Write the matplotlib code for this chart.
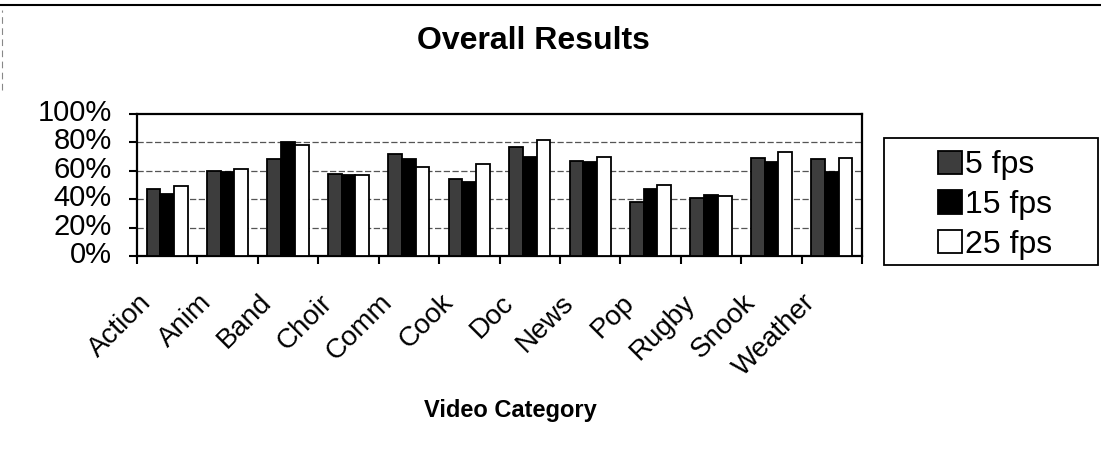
import matplotlib.pyplot as plt
import numpy as np
from matplotlib.lines import Line2D
from matplotlib.patches import Rectangle
from matplotlib.ticker import FuncFormatter, FixedLocator
from matplotlib.transforms import ScaledTranslation

plt.rcParams['font.family'] = ['Liberation Sans', 'DejaVu Sans']

categories = ['Action', 'Anim', 'Band', 'Choir', 'Comm', 'Cook',
              'Doc', 'News', 'Pop', 'Rugby', 'Snook', 'Weather']
fps_5 = [47, 60, 68, 58, 72, 54, 77, 67, 38, 41, 69, 68]
fps_15 = [44, 59, 80, 57, 68, 52, 70, 66, 47, 43, 66, 59]
fps_25 = [49, 61, 78, 57, 63, 65, 82, 70, 50, 42, 73, 69]
series_names = ['5 fps', '15 fps', '25 fps']
colors = ['#3d3d3d', 'black', 'white']

W, H = 1101, 473
fig = plt.figure(figsize=(W / 100.0, H / 100.0), dpi=100)
ax = fig.add_axes([137.0 / W, 1 - 256.0 / H, 725.0 / W, 142.0 / H])

ind = np.arange(len(categories))
width = 0.227
bars = []
for j, vals in enumerate([fps_5, fps_15, fps_25]):
    b = ax.bar(ind + (j - 1) * width, vals, width, color=colors[j],
               edgecolor='black', linewidth=1.3, zorder=3)
    bars.append(b)

ax.set_xlim(-0.5, len(categories) - 0.5)
ax.set_ylim(0, 100)
ax.set_yticks([0, 20, 40, 60, 80, 100])
ax.yaxis.set_major_formatter(FuncFormatter(lambda v, p: '%d%%' % v))
for g in [20, 40, 60, 80]:
    ax.axhline(g, color='#555555', lw=0.9, ls=(0, (5, 2)), zorder=1)

ax.set_xticks(ind)
ax.set_xticklabels(categories, rotation=45, ha='right', va='top', fontsize=20)
ax.xaxis.set_minor_locator(FixedLocator(np.arange(-0.5, len(categories), 1.0)))
ax.tick_params(axis='x', which='major', length=0, pad=4)
ax.tick_params(axis='x', which='minor', length=6, width=1.5, direction='out')
ax.tick_params(axis='y', length=6, width=1.5, direction='out', labelsize=21, pad=12)
for s in ax.spines.values():
    s.set_linewidth(1.6)

# nudge labels: category names sit lower and left of the centre, % labels a bit up
xoff = ScaledTranslation(-0.11, -0.28, fig.dpi_scale_trans)
for lbl in ax.get_xticklabels():
    lbl.set_transform(lbl.get_transform() + xoff)
yoff = ScaledTranslation(0, 0.04, fig.dpi_scale_trans)
for lbl in ax.get_yticklabels():
    lbl.set_transform(lbl.get_transform() + yoff)

fig.text(533.0 / W, 1 - 41.0 / H, 'Overall Results', ha='center', va='center',
         fontsize=23, fontweight='bold')
fig.text(510.0 / W, 1 - 410.0 / H, 'Video Category', ha='center', va='center',
         fontsize=17, fontweight='bold')

# legend box drawn separately so its frame keeps the wide right margin
fig.patches.append(Rectangle((884.0 / W, 1 - 265.0 / H), 214.0 / W, 127.0 / H,
                             transform=fig.transFigure, fill=False,
                             edgecolor='black', lw=1.3))
fig.legend([b[0] for b in bars], series_names, loc='center left',
           bbox_to_anchor=(938.0 / W, 1 - 205.0 / H), frameon=False,
           fontsize=23, handlelength=0.75, handleheight=0.75,
           handletextpad=0.1, labelspacing=0.3, borderpad=0, borderaxespad=0)

# chart area top border and faint left edge
fig.add_artist(Line2D([0, 1], [1 - 5.0 / H, 1 - 5.0 / H], transform=fig.transFigure,
                      color='black', lw=1.5))
fig.add_artist(Line2D([2.0 / W, 2.0 / W], [1 - 90.0 / H, 1 - 10.0 / H],
                      transform=fig.transFigure, color='#888888', lw=0.8,
                      ls=(0, (6, 4))))

fig.savefig('out.png', dpi=100)
